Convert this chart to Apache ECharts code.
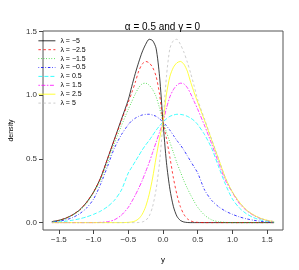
<!DOCTYPE html>
<html><head><meta charset="utf-8">
<script src="https://cdn.jsdelivr.net/npm/echarts@6/dist/echarts.min.js"></script>
<style>html,body{margin:0;padding:0;background:#fff}#c{width:299px;height:270px}</style>
</head><body><div id="c"></div>
<script>
var xs = [-1.6,-1.5,-1.4,-1.3,-1.2,-1.1,-1.0,-0.9,-0.8,-0.7,-0.6,-0.5,-0.45,-0.4,-0.35,-0.3,-0.25,-0.2,-0.15,-0.1,-0.05,0,0.05,0.1,0.15,0.2,0.25,0.3,0.35,0.4,0.45,0.5,0.6,0.7,0.8,0.9,1.0,1.1,1.2,1.3,1.4,1.5,1.6];
var lamM5  = [0.008,0.018,0.035,0.062,0.10,0.16,0.24,0.35,0.50,0.655,0.81,0.965, 1.07,1.17,1.26,1.34,1.40,1.44,1.43,1.37,1.15, 0.79, 0.47,0.26,0.125,0.05,0.017,0.005,0.001,0,0, 0,0,0,0,0,0,0,0,0,0,0,0];
var lamM25 = [0.008,0.018,0.035,0.062,0.10,0.16,0.24,0.35,0.50,0.65,0.80,0.945, 1.02,1.10,1.19,1.245,1.266,1.255,1.22,1.15,1.01, 0.79, 0.66,0.51,0.35,0.22,0.125,0.065,0.03,0.013,0.005, 0.002,0,0,0,0,0,0,0,0,0,0,0];
var lamM15 = [0.007,0.016,0.032,0.058,0.096,0.15,0.235,0.33,0.47,0.62,0.76,0.89, 0.95,1.01,1.06,1.09,1.095,1.08,1.045,0.99,0.90, 0.79, 0.71,0.63,0.55,0.47,0.40,0.33,0.27,0.215,0.165, 0.12,0.058,0.022,0.007,0.002,0,0,0,0,0,0,0];
var lamM05 = [0.005,0.011,0.022,0.04,0.07,0.115,0.185,0.30,0.44,0.585,0.69,0.77, 0.80,0.82,0.835,0.845,0.85,0.851,0.845,0.835,0.815, 0.79, 0.76,0.725,0.685,0.645,0.61,0.57,0.525,0.48,0.435, 0.39,0.255,0.175,0.125,0.09,0.065,0.045,0.03,0.019,0.011,0.006,0.003];
var lamP05 = [0.003,0.006,0.011,0.019,0.03,0.045,0.065,0.09,0.125,0.175,0.255,0.39, 0.435,0.48,0.525,0.57,0.61,0.645,0.685,0.725,0.76, 0.79, 0.815,0.835,0.845,0.851,0.85,0.845,0.835,0.82,0.80, 0.77,0.69,0.585,0.44,0.30,0.185,0.115,0.07,0.04,0.022,0.011,0.005];
var lamP15 = [0,0,0,0,0,0,0,0.002,0.007,0.022,0.058,0.12, 0.165,0.215,0.27,0.33,0.40,0.47,0.55,0.63,0.71, 0.79, 0.90,0.99,1.045,1.08,1.095,1.09,1.06,1.01,0.95, 0.89,0.76,0.62,0.47,0.33,0.235,0.15,0.096,0.058,0.032,0.016,0.007];
var lamP25 = [0,0,0,0,0,0,0,0,0,0,0,0.002, 0.005,0.013,0.03,0.065,0.125,0.22,0.35,0.51,0.66, 0.79, 1.01,1.15,1.22,1.255,1.266,1.245,1.19,1.10,1.02, 0.945,0.80,0.65,0.50,0.35,0.24,0.16,0.10,0.062,0.035,0.018,0.008];
var lamP5  = [0,0,0,0,0,0,0,0,0,0,0,0, 0,0,0.001,0.005,0.017,0.05,0.125,0.26,0.47, 0.79, 1.15,1.37,1.43,1.44,1.40,1.34,1.26,1.17,1.07, 0.965,0.81,0.655,0.50,0.35,0.24,0.16,0.10,0.062,0.035,0.018,0.008];
var names = ['λ = −5','λ = −2.5','λ = −1.5','λ = −0.5','λ = 0.5','λ = 1.5','λ = 2.5','λ = 5'];
var xTicks = [-1.5,-1.0,-0.5,0,0.5,1.0,1.5];
var yTicks = [0,0.5,1.0,1.5];

var seriesVals = [lamM5,lamM25,lamM15,lamM05,lamP05,lamP15,lamP25,lamP5];
var colors = ['#000000','#FF0000','#00CD00','#0000FF','#00FFFF','#FF00FF','#FFFF00','#BEBEBE'];
var dashes = ['solid',[2.5,2.5],[0.8,1.8],[0.8,1.8,2.5,1.8],[4,2],[1.5,1.5,4,1.5],'solid',[2.5,2.5]];
var FONT = '"Liberation Sans", Arial, Helvetica, sans-serif';
function fmt(v){ var s = Math.abs(v).toFixed(1); return (v<0?'−':'')+s; }

var series = seriesVals.map(function(arr,k){
  return {
    name: names[k], type:'line', symbol:'none', smooth:0.25, animation:false,
    data: xs.map(function(x,i){return [x,arr[i]];}),
    lineStyle:{color:colors[k], width:0.75, type:dashes[k]},
    itemStyle:{color:colors[k]}
  };
});

var chart = echarts.init(document.getElementById('c'), null, {renderer:'canvas'});
chart.setOption({
  animation:false,
  backgroundColor:'#fff',
  title:{text:'α = 0.5 and γ = 0', left:157.5, textAlign:'center', top:17,
    textStyle:{fontFamily:FONT, fontSize:10, fontWeight:'normal', color:'#000'}},
  grid:{left:32, right:16, top:31, bottom:40, show:true, borderColor:'#555', borderWidth:1, backgroundColor:'transparent'},
  legend:{orient:'vertical', left:38, top:37.3, padding:0, itemWidth:17, itemHeight:8, itemGap:1.9,
    itemStyle:{opacity:0}, lineStyle:{width:0.8},
    textStyle:{fontFamily:FONT, fontSize:7, color:'#000'}, data:names, selectedMode:false},
  xAxis:{type:'value', min:-1.728, max:1.728,
    name:'y', nameLocation:'middle', nameGap:26, nameTextStyle:{fontFamily:FONT, fontSize:8, color:'#000'},
    axisLine:{show:false, onZero:false}, splitLine:{show:false},
    axisTick:{show:true, length:4, lineStyle:{color:'#444'}, customValues:xTicks},
    axisLabel:{fontFamily:FONT, fontSize:8, color:'#333', margin:6, customValues:xTicks, formatter:fmt}},
  yAxis:{type:'value', min:-0.058, max:1.505,
    name:'density', nameLocation:'middle', nameGap:23, nameRotate:90, nameTextStyle:{fontFamily:FONT, fontSize:7, color:'#000'},
    axisLine:{show:false, onZero:false}, splitLine:{show:false},
    axisTick:{show:true, length:4, lineStyle:{color:'#444'}, customValues:yTicks},
    axisLabel:{fontFamily:FONT, fontSize:8, color:'#333', margin:6, customValues:yTicks, formatter:fmt}},
  series: series
});
</script></body></html>
